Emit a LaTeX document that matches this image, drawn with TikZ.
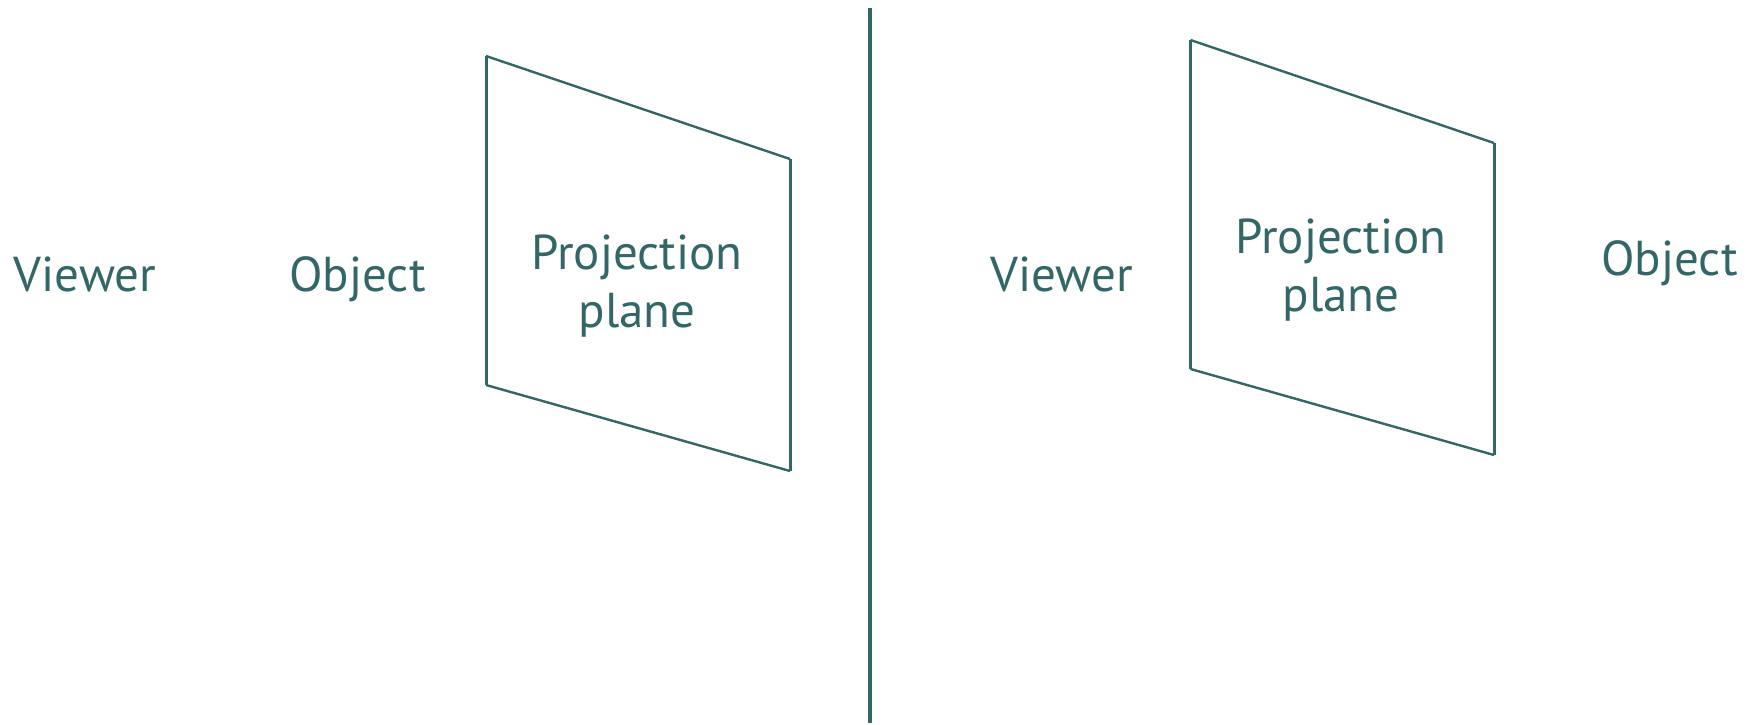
\documentclass[tikz,border=0pt]{standalone}
\usepackage{fontspec}
\setmainfont{PT Sans}
\definecolor{teal1}{HTML}{336666}
\begin{document}
\begin{tikzpicture}[x=1pt,y=-1pt,
  lbl/.style={text=teal1,inner sep=0pt,anchor=base,font=\fontsize{49}{58}\selectfont,align=center},
  edge/.style={draw=teal1,line width=2.4pt,line join=miter},
  vedge/.style={draw=teal1,line width=3pt}]
\useasboundingbox (0,0) rectangle (1758,725);
% divider
\draw[teal1,line width=3.5pt] (870,8) -- (870,723);
% left plane
\coordinate (a1) at (486,56);
\coordinate (a2) at (790,159);
\coordinate (a3) at (790,471);
\coordinate (a4) at (486,385);
\draw[edge] (a1) -- (a2) (a3) -- (a4);
\draw[vedge] (a1) -- (a4) (a2) -- (a3);
% right plane
\coordinate (b1) at (1190.5,40);
\coordinate (b2) at (1494,143);
\coordinate (b3) at (1494,455);
\coordinate (b4) at (1190.5,369);
\draw[edge] (b1) -- (b2) (b3) -- (b4);
\draw[vedge] (b1) -- (b4) (b2) -- (b3);
% labels
\node[lbl] (v1) at (85,291.5) {Viewer};
\node[lbl] (o1) at (357.5,291.5) {Object};
\node[lbl] (p1) at (637,327) {Projection\\plane};
\node[lbl] (v2) at (1061.5,291.5) {Viewer};
\node[lbl] (p2) at (1341,311.6) {Projection\\plane};
\node[lbl] (o2) at (1669.5,275.8) {Object};
\end{tikzpicture}
\end{document}
